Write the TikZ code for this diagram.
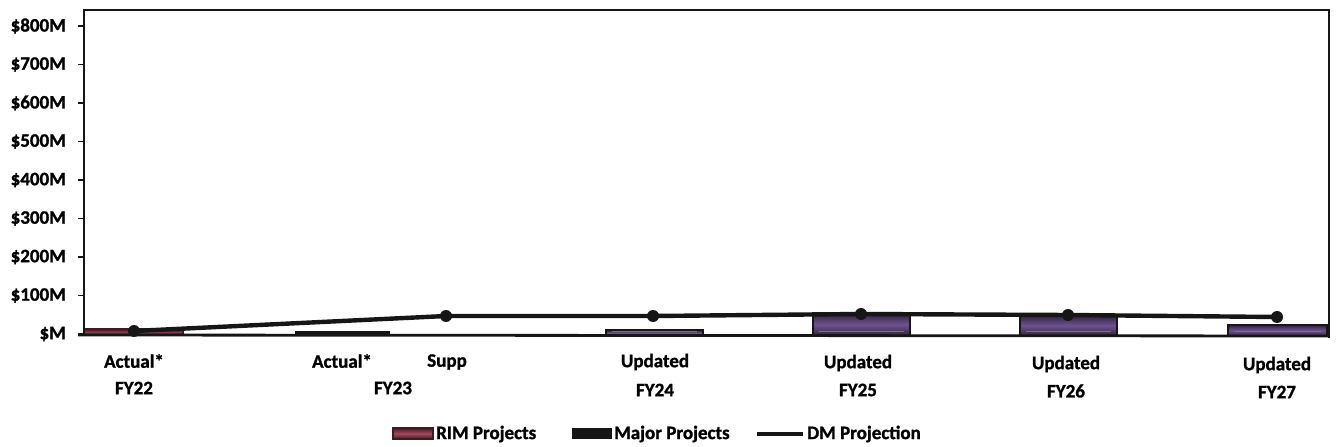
\documentclass[tikz,border=0pt]{standalone}
\usepackage{fontspec}
\setmainfont{Carlito}[BoldFeatures={FakeBold=1.3}]
\definecolor{axisc}{HTML}{161616}
\definecolor{bardark}{HTML}{2E2338}
\definecolor{barmid}{HTML}{6E5290}
\definecolor{barred}{HTML}{C05565}
\definecolor{rimdark}{HTML}{3E1A22}
\definecolor{rimlight}{HTML}{A84860}
\tikzset{
  lbl/.style={font=\fontsize{19bp}{21bp}\selectfont\bfseries, text=black, inner sep=0pt},
  ylbl/.style={lbl, anchor=east},
  axisline/.style={draw=axisc, line width=2.8bp},
  dmline/.style={draw=axisc, line width=4.4bp, line join=round},
  dmdot/.style={circle, fill=axisc, minimum size=12bp, inner sep=0pt},
  barbox/.style={draw=axisc, line width=2.4bp, top color=bardark, bottom color=bardark, middle color=barmid},
}
\begin{document}
\begin{tikzpicture}[x=1bp, y=-1bp]
\useasboundingbox (0,0) rectangle (1336,447);
\fill[white] (0,0) rectangle (1336,447);
% bars
\shade[draw=rimdark, line width=1.6bp, top color=rimdark, bottom color=rimdark, middle color=rimlight!80!black] (84,329) rectangle (183,335);
\fill[axisc] (295,331) rectangle (390,335);
\foreach \xa/\xb/\yt in {606/703/330, 813/910/313, 1020/1117/315, 1228/1327/325}{
  \shade[barbox] (\xa,\yt) rectangle (\xb,336);
  \draw[barred, line width=1.4bp] (\xa+6,331.5) -- (\xb-6,331.5);
}
% frame and axes
\coordinate (tl) at (84,10);
\coordinate (tr) at (1329,10);
\coordinate (br) at (1329,338);
\coordinate (bl) at (84,335);
\coordinate (blx) at (78,335);
\draw[axisline] (bl) -- (tl) -- (tr) -- (br);
\draw[axisline] (blx) -- (1329,336);
% y ticks and labels
\foreach \v/\t [count=\i from 0] in {800/\$800M,700/\$700M,600/\$600M,500/\$500M,400/\$400M,300/\$300M,200/\$200M,100/\$100M,0/\$M}{
  \draw[axisc, line width=1.4bp] (78,26+\i*38.5) -- (84,26+\i*38.5);
  \node[ylbl] (y\v) at (66,26+\i*38.5) {\t};
}
% DM projection
\node[dmdot] (p1) at (134,331) {};
\node[dmdot] (p2) at (446,316) {};
\node[dmdot] (p3) at (653,316) {};
\node[dmdot] (p4) at (861,314) {};
\node[dmdot] (p5) at (1068,315) {};
\node[dmdot] (p6) at (1277,317) {};
\draw[dmline] (p1.center) -- (p2.center) -- (p3.center) -- (p4.center) -- (p5.center) -- (p6.center);
% category labels
\node[lbl] (c1a) at (134,361) {Actual*};
\node[lbl] (c1b) at (134,388) {FY22};
\node[lbl] (c2a) at (342,361) {Actual*};
\node[lbl] (c3a) at (447,362) {Supp};
\node[lbl] (c23) at (393,388) {FY23};
\node[lbl] (c4a) at (655,362) {Updated};
\node[lbl] (c4b) at (655,390) {FY24};
\node[lbl] (c5a) at (858,363) {Updated};
\node[lbl] (c5b) at (858,390) {FY25};
\node[lbl] (c6a) at (1066,364) {Updated};
\node[lbl] (c6b) at (1066,391) {FY26};
\node[lbl] (c7a) at (1277,365) {Updated};
\node[lbl] (c7b) at (1277,392) {FY27};
% legend
\shade[draw=rimdark, line width=1.4bp, top color=rimdark, bottom color=rimdark, middle color=rimlight] (393,428) rectangle (433,439);
\node[lbl, anchor=west] (lg1) at (436,434) {RIM Projects};
\fill[axisc] (572,428) rectangle (612,439);
\node[lbl, anchor=west] (lg2) at (614,434) {Major Projects};
\coordinate (lgl1) at (757,434);
\coordinate (lgl2) at (803,434);
\draw[dmline] (lgl1) -- (lgl2);
\node[lbl, anchor=west] (lg3) at (807,434) {DM Projection};
\end{tikzpicture}
\end{document}
